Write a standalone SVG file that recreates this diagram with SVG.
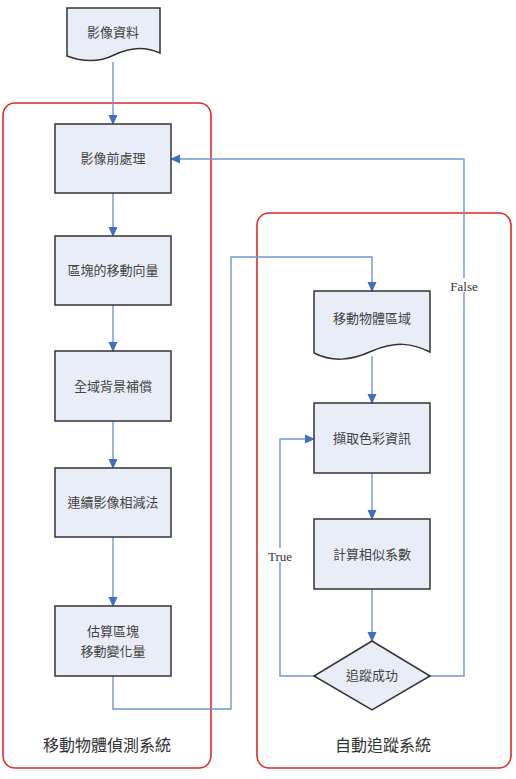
<svg xmlns="http://www.w3.org/2000/svg" width="516" height="779" viewBox="0 0 516 779">
<style>
.node{fill:#e9edf8;stroke:#333;stroke-width:1.5}
.t{font-family:"Noto Sans CJK TC","Noto Sans CJK SC",sans-serif;font-size:13px;fill:#444;text-anchor:middle}
.big{font-family:"Noto Sans CJK TC","Noto Sans CJK SC",sans-serif;font-size:16px;fill:#333;text-anchor:middle}
.lbl{font-family:"Liberation Serif",serif;font-size:13px;fill:#333;text-anchor:middle}
.c{fill:none;stroke:#6f96d2;stroke-width:1.4}
.grp{fill:none;stroke:#e02828;stroke-width:1.6}
</style>
<defs>
<marker id="ah" markerWidth="10" markerHeight="10" refX="9" refY="5" orient="auto" markerUnits="userSpaceOnUse">
<path d="M0,0.5 L10,5 L0,9.5 Z" fill="#3f70c0"/>
</marker>
</defs>
<rect width="516" height="779" fill="#fff"/>
<g id="group-detect">
<rect class="grp" x="3" y="103" width="208" height="665" rx="12"/>
<text class="big" x="107" y="751">移動物體偵測系統</text>
</g>
<g id="group-track">
<rect class="grp" x="257" y="213" width="254" height="555" rx="12"/>
<text class="big" x="383" y="751">自動追蹤系統</text>
</g>
<g id="connectors">
<path class="c" d="M113,62 V124" marker-end="url(#ah)"/>
<path class="c" d="M113,193 V236" marker-end="url(#ah)"/>
<path class="c" d="M113,305 V351" marker-end="url(#ah)"/>
<path class="c" d="M113,421 V468" marker-end="url(#ah)"/>
<path class="c" d="M113,537 V606" marker-end="url(#ah)"/>
<path class="c" d="M113,676 V709 H231 V257 H372 V291" marker-end="url(#ah)"/>
<path class="c" d="M372,356 V403" marker-end="url(#ah)"/>
<path class="c" d="M372,473 V519" marker-end="url(#ah)"/>
<path class="c" d="M372,589 V641" marker-end="url(#ah)"/>
<path class="c" d="M314,676 H280 V439 H314" marker-end="url(#ah)"/>
<path class="c" d="M430,676 H464 V159 H171" marker-end="url(#ah)"/>
<rect x="449" y="278" width="31" height="14" fill="#fff"/>
<text class="lbl" x="464" y="291">False</text>
<rect x="266" y="548" width="28" height="14" fill="#fff"/>
<text class="lbl" x="280" y="561">True</text>
</g>
<g id="n-input">
<path class="node" d="M67,8 H160 V53 C145,46 130,47 114,55 C98,63 83,62 67,56 Z"/>
<text class="t" x="113" y="37">影像資料</text>
</g>
<g id="n-pre">
<rect class="node" x="55" y="124" width="116" height="69"/>
<text class="t" x="113" y="163">影像前處理</text>
</g>
<g id="n-mv">
<rect class="node" x="55" y="236" width="116" height="69"/>
<text class="t" x="113" y="275">區塊的移動向量</text>
</g>
<g id="n-bg">
<rect class="node" x="55" y="351" width="116" height="70"/>
<text class="t" x="113" y="391">全域背景補償</text>
</g>
<g id="n-diff">
<rect class="node" x="55" y="468" width="116" height="69"/>
<text class="t" x="113" y="507">連續影像相減法</text>
</g>
<g id="n-est">
<rect class="node" x="55" y="606" width="116" height="70"/>
<text class="t" x="113" y="636">估算區塊</text>
<text class="t" x="113" y="656">移動變化量</text>
</g>
<g id="n-region">
<path class="node" d="M314,291 H430 V352 C412,343 396,341 372,351 C350,361 332,362 314,353 Z"/>
<text class="t" x="372" y="323">移動物體區域</text>
</g>
<g id="n-color">
<rect class="node" x="314" y="403" width="116" height="70"/>
<text class="t" x="372" y="443">擷取色彩資訊</text>
</g>
<g id="n-sim">
<rect class="node" x="314" y="519" width="116" height="70"/>
<text class="t" x="372" y="559">計算相似系數</text>
</g>
<g id="n-dec">
<path class="node" d="M372,641 L430,676 L372,710 L314,676 Z"/>
<text class="t" x="372" y="680">追蹤成功</text>
</g>
</svg>
